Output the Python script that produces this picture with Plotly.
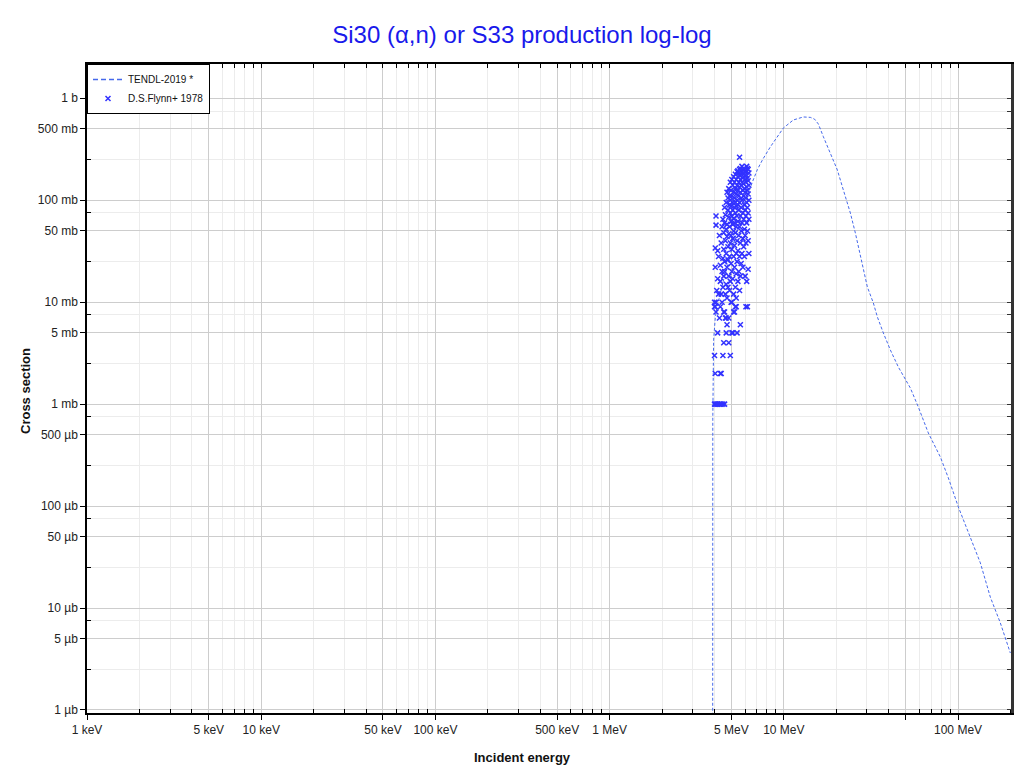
import plotly.graph_objects as go

# ---------------- data ----------------
# TENDL-2019 evaluated curve (energy in eV, cross section in barn)
tendl_E_eV = [3.90e6, 3.91e6, 3.954e6, 4.044e6, 4.136e6, 4.32e6, 4.51e6, 4.93e6, 5.41e6,
              5.93e6, 6.60e6, 7.05e6, 7.53e6, 8.36e6, 9.94e6, 1.134e7, 1.294e7, 1.419e7,
              1.50e7, 1.578e7, 1.686e7, 1.849e7, 2.029e7, 2.196e7, 2.409e7, 2.574e7, 2.823e7,
              3.016e7, 3.265e7, 3.443e7, 3.726e7, 4.087e7, 4.543e7, 4.983e7, 5.323e7,
              5.916e7, 6.752e7, 7.915e7, 8.797e7, 1.004e8, 1.177e8, 1.343e8, 1.532e8,
              1.749e8, 1.996e8]
tendl_xs_b = [1e-9, 7.0e-4, 4.26e-3, 7.16e-3, 8.97e-3, 1.23e-2, 1.65e-2, 2.90e-2, 5.11e-2,
              8.98e-2, 0.151, 0.200, 0.248, 0.333, 0.511, 0.613, 0.656, 0.650,
              0.625, 0.560, 0.420, 0.290, 0.198, 0.126, 0.0750, 0.0477, 0.0242,
              0.0141, 9.82e-3, 7.16e-3, 4.99e-3, 3.40e-3, 2.31e-3, 1.72e-3, 1.44e-3,
              9.37e-4, 5.21e-4, 3.03e-4, 1.89e-4, 9.8e-5, 4.98e-5, 2.77e-5, 1.28e-5,
              7.14e-6, 3.62e-6]

# D.S.Flynn+ 1978 measurements: energies (MeV) and the cross sections (mb) at each energy
flynn_E_MeV = [4.00, 4.04, 4.08, 4.12, 4.17, 4.22, 4.27, 4.32, 4.37, 4.42, 4.47, 4.52,
               4.57, 4.62, 4.67, 4.72, 4.78, 4.83, 4.88, 4.93, 4.98, 5.03, 5.09, 5.15,
               5.21, 5.27, 5.33, 5.39, 5.45, 5.51, 5.57, 5.63, 5.69, 5.75, 5.82, 5.88,
               5.94, 6.00, 6.06, 6.12, 6.18, 6.24, 6.30]
flynn_xs_mb = [
    [10, 9, 3, 1], [9, 2, 1, 34, 22], [70, 57, 10, 8], [1, 13], [1, 5, 32, 17],
    [12, 28], [7, 1, 45], [16, 23, 2, 9], [1, 2, 12, 38], [10, 20, 55],
    [27, 14, 3, 1, 65], [8, 4, 33, 18, 48], [1, 8, 20, 60, 85, 25], [7, 12, 40, 72],
    [5, 7, 15, 30, 95, 52], [6, 11, 22, 58, 120, 44], [14, 35, 80, 105, 26],
    [7, 4, 18, 47, 68, 130], [13, 28, 90, 55, 110], [3, 16, 38, 75, 150, 100],
    [10, 24, 62, 88, 125, 45], [160, 10, 5, 20, 33, 70, 110], [5, 17, 42, 95, 140, 58, 80],
    [8, 12, 28, 66, 120, 170, 50], [8, 22, 36, 85, 105, 150, 60],
    [9, 14, 48, 75, 130, 180, 95], [9, 11, 19, 30, 55, 115, 160, 88],
    [5, 25, 40, 70, 100, 140, 190], [16, 32, 62, 90, 125, 170, 195],
    [20, 45, 80, 110, 150, 185], [264, 200, 13, 28, 55, 95, 135, 175],
    [6, 18, 38, 70, 120, 160, 205], [24, 50, 85, 140, 180, 105],
    [30, 60, 100, 150, 190, 215], [22, 42, 75, 125, 165, 200], [35, 65, 110, 145, 185],
    [28, 52, 90, 130, 175, 200], [18, 45, 80, 120, 160, 195], [9, 38, 70, 105, 150, 190],
    [16, 60, 95, 135, 175, 215], [9, 50, 85, 125, 165, 205], [21, 40, 75, 115, 155, 200],
    [30, 65, 100, 140, 185],
]

x_tick_vals = [1e3, 5e3, 1e4, 5e4, 1e5, 5e5, 1e6, 5e6, 1e7, 5e7, 1e8]
x_tick_text = ["1 keV", "5 keV", "10 keV", "50 keV", "100 keV", "500 keV",
               "1 MeV", "5 MeV", "10 MeV", "", "100 MeV"]
y_tick_vals = [1e-6, 5e-6, 1e-5, 5e-5, 1e-4, 5e-4, 1e-3, 5e-3, 1e-2, 5e-2, 1e-1, 5e-1, 1]
y_tick_text = ["1 µb", "5 µb", "10 µb", "50 µb", "100 µb", "500 µb",
               "1 mb", "5 mb", "10 mb", "50 mb", "100 mb", "500 mb", "1 b"]

# ---------------- derived ----------------
fx, fy = [], []
for e, vals in zip(flynn_E_MeV, flynn_xs_mb):
    for v in vals:
        fx.append(e * 1e6)
        fy.append(v * 1e-3)

x_minor = [m * 10 ** d for d in range(3, 9) for m in (2, 3, 4, 6, 7, 8, 9) if m * 10 ** d < 2.1e8]
y_minor = [m * 10 ** d for d in range(-7, 1) for m in (2.5, 7.5)]
x_all = sorted(x_tick_vals + x_minor)
y_all = sorted(y_tick_vals + y_minor)

XR = [3, 8.304]
YR = [-6.030, 0.3364]
FONT = "Liberation Sans, Arial, sans-serif"
CURVE = "rgb(70,105,235)"
MARK = "rgb(50,50,255)"

# page body has an 8px margin: figure is sized/positioned to compensate
W, H = 1016, 766
OFF = 8

fig = go.Figure()
fig.add_trace(go.Scatter(
    x=tendl_E_eV, y=tendl_xs_b, mode="lines", name="TENDL-2019 *", showlegend=False,
    line=dict(color=CURVE, width=1, dash="3px,2px"),
))
# legend sample for the curve (drawn with longer dashes, as in the original legend)
fig.add_trace(go.Scatter(
    x=[None], y=[None], mode="lines", name="TENDL-2019 *",
    line=dict(color=CURVE, width=1.6, dash="5px,3px"),
))
fig.add_trace(go.Scatter(
    x=fx, y=fy, mode="markers", name="D.S.Flynn+ 1978",
    marker=dict(symbol="x-thin", size=5, color=MARK,
                line=dict(width=1.5, color=MARK)),
))
# empty trace to activate mirror axes (top / right)
fig.add_trace(go.Scatter(x=[], y=[], xaxis="x2", yaxis="y2", showlegend=False,
                         hoverinfo="skip"))

fig.update_layout(
    width=W, height=H,
    margin=dict(l=87 - OFF, r=13, t=64 - OFF, b=61),
    paper_bgcolor="white", plot_bgcolor="white",
    font=dict(family=FONT, size=12, color="#222"),
    title=dict(text="Si30 (α,n) or S33 production log-log",
               font=dict(family=FONT, size=24, color="rgb(25,25,235)"),
               x=(522 - OFF) / W, xanchor="center", xref="container",
               y=1 - (35 - OFF) / H, yanchor="middle", yref="container"),
    showlegend=True,
    legend=dict(x=0, y=1, xanchor="left", yanchor="top",
                bgcolor="white", bordercolor="black", borderwidth=1,
                font=dict(family=FONT, size=10, color="#111"),
                tracegroupgap=0, itemwidth=30),
    xaxis=dict(
        type="log", range=XR, showline=True, linecolor="black", linewidth=1.5,
        tickmode="array", tickvals=x_tick_vals, ticktext=x_tick_text,
        ticks="outside", ticklen=5, tickcolor="black",
        gridcolor="#cdcdcd", gridwidth=1, zeroline=False,
        tickfont=dict(family=FONT, size=12, color="#222"),
        minor=dict(tickmode="array", tickvals=x_minor, ticks="inside", ticklen=4,
                   tickcolor="black", showgrid=True, gridcolor="#ececec", gridwidth=1),
    ),
    yaxis=dict(
        type="log", range=YR, showline=True, linecolor="black", linewidth=1.5,
        tickmode="array", tickvals=y_tick_vals, ticktext=y_tick_text,
        ticks="outside", ticklen=5, tickcolor="black",
        gridcolor="#cdcdcd", gridwidth=1, zeroline=False,
        tickfont=dict(family=FONT, size=12, color="#222"),
        minor=dict(tickmode="array", tickvals=y_minor, ticks="inside", ticklen=4,
                   tickcolor="black", showgrid=True, gridcolor="#ececec", gridwidth=1),
    ),
    xaxis2=dict(
        type="log", range=XR, overlaying="x", side="top", anchor="y",
        showline=True, linecolor="black", linewidth=1.5,
        tickmode="array", tickvals=x_all, ticks="inside", ticklen=4, tickcolor="black",
        showticklabels=False, showgrid=False, zeroline=False,
    ),
    yaxis2=dict(
        type="log", range=YR, overlaying="y", side="right", anchor="x",
        showline=True, linecolor="#333", linewidth=2.5,
        tickmode="array", tickvals=y_all, ticks="inside", ticklen=4, tickcolor="#333",
        showticklabels=False, showgrid=False, zeroline=False,
    ),
    annotations=[
        dict(text="<b>Incident energy</b>", xref="paper", yref="paper",
             x=(522 - 87) / 924, y=(713 - 757) / 649, xanchor="center", yanchor="middle",
             showarrow=False, font=dict(family=FONT, size=13, color="#111")),
        dict(text="<b>Cross section</b>", xref="paper", yref="paper",
             x=(25 - 87) / 924, y=(713 - 391) / 649, xanchor="center", yanchor="middle",
             textangle=-90, showarrow=False, font=dict(family=FONT, size=13, color="#111")),
    ],
)

fig.write_html("out.html")
